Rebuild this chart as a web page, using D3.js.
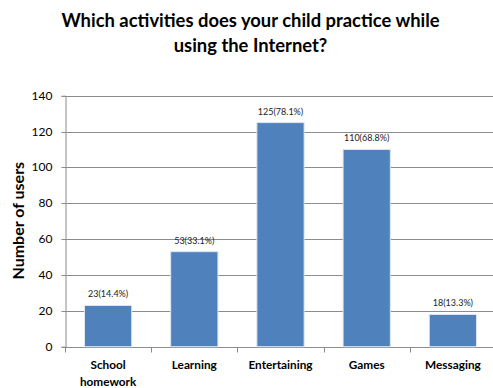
<!DOCTYPE html>
<html>
<head>
<meta charset="utf-8">
<script src="https://cdn.jsdelivr.net/npm/d3@7"></script>
<style>
  html, body { margin: 0; padding: 0; background: #fff; }
  svg { display: block; }
  text { font-family: Lato, "Open Sans", sans-serif; }
</style>
</head>
<body>
<svg id="chart" width="493" height="388"></svg>
<script>
// Survey results: activities children practice online
const categories = [["School", "homework"], ["Learning"], ["Entertaining"], ["Games"], ["Messaging"]];
const values = [23, 53, 125, 110, 18];
const valueLabels = ["23(14.4%)", "53(33.1%)", "125(78.1%)", "110(68.8%)", "18(13.3%)"];
const yTicks = [0, 20, 40, 60, 80, 100, 120, 140];
const titleLines = ["Which activities does your child practice while", "using the Internet?"];
const yTitle = "Number of users";

const svg = d3.select("#chart");
const plot = { left: 65, right: 496, top: 95.7, bottom: 346.7 };

const x = d3.scaleBand()
  .domain(d3.range(values.length))
  .range([plot.left, plot.right])
  .padding(0);

const y = d3.scaleLinear()
  .domain([0, 140])
  .range([plot.bottom, plot.top]);

const axisColor = "#8c8c8c";
const snap = v => Math.round(v) + 0.5;

// Title
svg.append("g").selectAll("text")
  .data(titleLines)
  .join("text")
  .attr("x", 250.5)
  .attr("y", (d, i) => 26.5 + i * 25)
  .attr("text-anchor", "middle")
  .attr("font-size", 18.4)
  .attr("font-weight", "bold")
  .attr("fill", "#000")
  .text(d => d);

// Horizontal gridlines
svg.append("g").selectAll("line")
  .data(yTicks.filter(t => t > 0))
  .join("line")
  .attr("x1", plot.left)
  .attr("x2", plot.right)
  .attr("y1", d => snap(y(d)))
  .attr("y2", d => snap(y(d)))
  .attr("stroke", axisColor)
  .attr("stroke-width", 1);

// Y axis
const yAxis = svg.append("g")
  .attr("transform", `translate(${plot.left + 0.5},0)`)
  .call(d3.axisLeft(y).tickValues(yTicks).tickSize(4).tickPadding(9));
yAxis.select(".domain").attr("stroke", axisColor);
yAxis.selectAll(".tick line").attr("stroke", axisColor);
yAxis.selectAll(".tick text")
  .attr("font-size", 12)
  .attr("fill", "#000")
  .style("font-family", "Lato, sans-serif");
yAxis.selectAll(".tick").attr("transform", d => `translate(0,${snap(y(d))})`);

// X axis with ticks at category boundaries
const xAxisG = svg.append("g")
  .attr("transform", `translate(0,${snap(y(0))})`);
xAxisG.append("line")
  .attr("x1", plot.left)
  .attr("x2", plot.right)
  .attr("stroke", axisColor);
xAxisG.selectAll("line.tick")
  .data(d3.range(values.length + 1))
  .join("line")
  .attr("class", "tick")
  .attr("x1", d => snap(plot.left + d * x.step()))
  .attr("x2", d => snap(plot.left + d * x.step()))
  .attr("y1", 0)
  .attr("y2", 5)
  .attr("stroke", axisColor);

// Bars
const barFrac = 0.548;
const bw = x.bandwidth() * barFrac;
svg.append("g").selectAll("rect")
  .data(values)
  .join("rect")
  .attr("x", (d, i) => x(i) + (x.bandwidth() - bw) / 2)
  .attr("y", d => y(d))
  .attr("width", bw)
  .attr("height", d => y(0) - y(d))
  .attr("fill", "#4f81bd")
  .attr("stroke", "#dfe6ef")
  .attr("stroke-width", 1);

// Value labels
svg.append("g").selectAll("text")
  .data(values)
  .join("text")
  .attr("x", (d, i) => x(i) + x.bandwidth() / 2)
  .attr("y", d => y(d) - 8)
  .attr("text-anchor", "middle")
  .attr("font-size", 9)
  .attr("fill", "#222")
  .text((d, i) => valueLabels[i]);

// Category labels
const catG = svg.append("g").selectAll("text")
  .data(categories)
  .join("text")
  .attr("x", (d, i) => x(i) + x.bandwidth() / 2)
  .attr("y", 369)
  .attr("text-anchor", "middle")
  .attr("font-size", 11.8)
  .attr("font-weight", "bold")
  .attr("fill", "#000");
catG.selectAll("tspan")
  .data((d, i) => d.map(s => ({ s, i })))
  .join("tspan")
  .attr("x", d => x(d.i) + x.bandwidth() / 2)
  .attr("dy", (d, j) => j === 0 ? 0 : 16.5)
  .text(d => d.s);

// Y axis title
svg.append("text")
  .attr("transform", `translate(23.5,${(plot.top + plot.bottom) / 2 - 0.5}) rotate(-90)`)
  .attr("text-anchor", "middle")
  .attr("font-size", 16)
  .attr("font-weight", "bold")
  .attr("fill", "#000")
  .text(yTitle);
</script>
</body>
</html>
